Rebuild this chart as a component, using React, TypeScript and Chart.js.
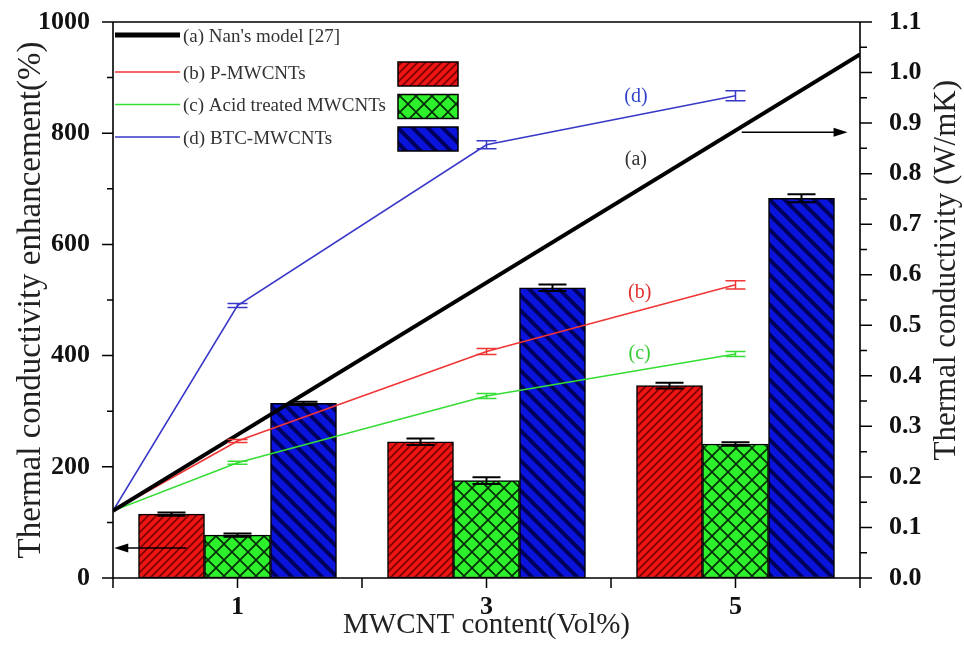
import React, { useEffect, useRef } from "react";
import { Chart, registerables } from "chart.js";

Chart.register(...registerables);

const WIDTH = 964;
const HEIGHT = 653;
const SERIF = '"Liberation Serif", "Times New Roman", serif';

// MWCNT loadings (vol%) of the nanofluid samples
const contentVol = [1, 3, 5];
// labelled positions on the x axis
const xLabeled = [1, 3, 5];

// thermal conductivity enhancement (%) — left axis, bars
const enhP = [115, 245, 346];
const enhPErr = [3, 6, 5];
const enhAcid = [77, 175, 241];
const enhAcidErr = [3, 6, 3];
const enhBtc = [314, 522, 683];
const enhBtcErr = [3, 6, 7];

// thermal conductivity (W/mK) — right axis, lines (0 vol% = base fluid)
const lineContent = [0, 1, 3, 5];
const kP = [0.133, 0.271, 0.448, 0.58];
const kPErr = [0, 0.003, 0.006, 0.008];
const kAcid = [0.133, 0.228, 0.36, 0.443];
const kAcidErr = [0, 0.003, 0.005, 0.005];
const kBtc = [0.133, 0.539, 0.857, 0.954];
const kBtcErr = [0, 0.004, 0.008, 0.01];

// Nan's model prediction
const nanContent = [0, 6];
const kNan = [0.133, 1.036];

// axis ranges and tick steps
const leftRange = [0, 1000];
const leftStep = 200;
const rightRange = [0, 1.1];
const rightStep = 0.1;

// curve tags, in data coordinates of the right axis
const curveTags = [
  { text: "(a)", x: 4.2, y: 0.827, color: "#333333" },
  { text: "(d)", x: 4.2, y: 0.953, color: "#3344cc" },
  { text: "(b)", x: 4.23, y: 0.564, color: "#e03030" },
  { text: "(c)", x: 4.23, y: 0.443, color: "#33cc33" },
];

// arrows pointing each family of curves at its axis
const axisArrows = [
  { axis: "y", y: 54, fromX: 0.59, toX: 0.01 },
  { axis: "y1", y: 0.882, fromX: 5.05, toX: 5.9 },
];

const RED = "#ee1515";
const GREEN = "#2bf02b";
const BLUE = "#0a14dc";
const LINE_RED = "#f03535";
const LINE_GREEN = "#35dd35";
const LINE_BLUE = "#3838c8";

function stripePattern(size: number, bg: string, fg: string, width: number, dir: "up" | "down" | "cross") {
  const c = document.createElement("canvas");
  c.width = size;
  c.height = size;
  const g = c.getContext("2d")!;
  g.fillStyle = bg;
  g.fillRect(0, 0, size, size);
  g.strokeStyle = fg;
  g.lineWidth = width;
  g.lineCap = "square";
  const drawUp = () => {
    for (let k = -1; k <= 1; k++) {
      g.beginPath();
      g.moveTo(k * size, size);
      g.lineTo(k * size + size, 0);
      g.stroke();
    }
  };
  const drawDown = () => {
    for (let k = -1; k <= 1; k++) {
      g.beginPath();
      g.moveTo(k * size, 0);
      g.lineTo(k * size + size, size);
      g.stroke();
    }
  };
  if (dir === "up" || dir === "cross") drawUp();
  if (dir === "down" || dir === "cross") drawDown();
  return g.createPattern(c, "repeat")!;
}

// vertical scales: fixed width, and no extra room reserved for half-labels
function fixVertical(width: number) {
  return (s: any) => {
    s.width = width;
    s.paddingTop = 0;
    s.paddingBottom = 0;
  };
}

export default function App() {
  const canvasRef = useRef<HTMLCanvasElement | null>(null);

  useEffect(() => {
    const canvas = canvasRef.current;
    if (!canvas) return;

    const redFill = stripePattern(8, RED, "#7a0000", 1.6, "up");
    const greenFill = stripePattern(16, GREEN, "#0a2a0a", 1.6, "cross");
    const blueFill = stripePattern(15, BLUE, "#00005a", 4, "down");

    const barSeries = [
      { label: "P-MWCNTs", values: enhP, err: enhPErr, fill: redFill },
      { label: "Acid treated MWCNTs", values: enhAcid, err: enhAcidErr, fill: greenFill },
      { label: "BTC-MWCNTs", values: enhBtc, err: enhBtcErr, fill: blueFill },
    ];
    const lineSeries = [
      { label: "(b) P-MWCNTs", values: kP, err: kPErr, color: LINE_RED },
      { label: "(c) Acid treated MWCNTs", values: kAcid, err: kAcidErr, color: LINE_GREEN },
      { label: "(d) BTC-MWCNTs", values: kBtc, err: kBtcErr, color: LINE_BLUE },
    ];

    const legendRows = [
      { text: "(a) Nan's model [27]", color: "#000", width: 5, swatch: null as CanvasPattern | null },
      { text: "(b) P-MWCNTs", color: LINE_RED, width: 1.5, swatch: redFill },
      { text: "(c) Acid treated MWCNTs", color: LINE_GREEN, width: 1.5, swatch: greenFill },
      { text: "(d) BTC-MWCNTs", color: LINE_BLUE, width: 1.5, swatch: blueFill },
    ];

    const decor = {
      id: "decor",
      afterDatasetsDraw(chart: any) {
        const ctx: CanvasRenderingContext2D = chart.ctx;
        const { x, y, y1 } = chart.scales;
        ctx.save();
        // error bars on the columns
        ctx.strokeStyle = "#000";
        ctx.lineWidth = 2;
        barSeries.forEach((s, si) => {
          const meta = chart.getDatasetMeta(4 + si);
          meta.data.forEach((bar: any, i: number) => {
            const cx = bar.x;
            const hi = y.getPixelForValue(s.values[i] + s.err[i]);
            const lo = y.getPixelForValue(s.values[i] - s.err[i]);
            ctx.beginPath();
            ctx.moveTo(cx, hi);
            ctx.lineTo(cx, lo);
            ctx.moveTo(cx - 14, hi);
            ctx.lineTo(cx + 14, hi);
            ctx.moveTo(cx - 14, lo);
            ctx.lineTo(cx + 14, lo);
            ctx.stroke();
          });
        });
        // error bars on the conductivity curves
        ctx.lineWidth = 1.5;
        lineSeries.forEach((s) => {
          ctx.strokeStyle = s.color;
          lineContent.forEach((c, i) => {
            if (!s.err[i]) return;
            const cx = x.getPixelForValue(c);
            const hi = y1.getPixelForValue(s.values[i] + s.err[i]);
            const lo = y1.getPixelForValue(s.values[i] - s.err[i]);
            ctx.beginPath();
            ctx.moveTo(cx, hi);
            ctx.lineTo(cx, lo);
            ctx.moveTo(cx - 10, hi);
            ctx.lineTo(cx + 10, hi);
            ctx.moveTo(cx - 10, lo);
            ctx.lineTo(cx + 10, lo);
            ctx.stroke();
          });
        });
        ctx.restore();
      },
      afterDraw(chart: any) {
        const ctx: CanvasRenderingContext2D = chart.ctx;
        const { x, y, y1 } = chart.scales;
        const ca = chart.chartArea;
        ctx.save();

        // frame and axis lines
        ctx.strokeStyle = "#000";
        ctx.lineWidth = 1.6;
        ctx.beginPath();
        ctx.moveTo(ca.left, ca.top);
        ctx.lineTo(ca.right, ca.top);
        ctx.moveTo(ca.left, ca.top);
        ctx.lineTo(ca.left, ca.bottom);
        ctx.lineTo(ca.right, ca.bottom);
        ctx.moveTo(ca.right, ca.top);
        ctx.lineTo(ca.right, ca.bottom);
        ctx.stroke();

        // tick marks, all pointing outwards
        ctx.lineWidth = 1.5;
        ctx.beginPath();
        for (let v = leftRange[0]; v <= leftRange[1] + 1e-9; v += leftStep / 2) {
          const py = y.getPixelForValue(v);
          const len = Math.round(v) % leftStep === 0 ? 11 : 6;
          ctx.moveTo(ca.left, py);
          ctx.lineTo(ca.left - len, py);
        }
        const nRight = Math.round((rightRange[1] - rightRange[0]) / (rightStep / 2));
        for (let i = 0; i <= nRight; i++) {
          const v = rightRange[0] + (i * rightStep) / 2;
          const py = y1.getPixelForValue(v);
          const len = i % 2 === 0 ? 12 : 7;
          ctx.moveTo(ca.right, py);
          ctx.lineTo(ca.right + len, py);
        }
        for (let v = x.min; v <= x.max; v += 1) {
          const px = x.getPixelForValue(v);
          ctx.moveTo(px, ca.bottom);
          ctx.lineTo(px, ca.bottom + 10);
        }
        ctx.stroke();

        // right axis title, reading bottom to top
        ctx.save();
        ctx.font = `31px ${SERIF}`;
        ctx.fillStyle = "#222";
        ctx.textBaseline = "middle";
        ctx.textAlign = "right";
        ctx.translate(947, ca.top + 58);
        ctx.rotate(-Math.PI / 2);
        ctx.fillText("Thermal conductivity (W/mK)", 0, 0);
        ctx.restore();

        // curve tags
        ctx.font = `20px ${SERIF}`;
        ctx.textAlign = "center";
        ctx.textBaseline = "middle";
        curveTags.forEach((t) => {
          ctx.fillStyle = t.color;
          ctx.fillText(t.text, x.getPixelForValue(t.x), y1.getPixelForValue(t.y));
        });

        // arrows
        ctx.strokeStyle = "#000";
        ctx.fillStyle = "#000";
        ctx.lineWidth = 1.5;
        axisArrows.forEach((a) => {
          const sc = a.axis === "y" ? y : y1;
          const py = sc.getPixelForValue(a.y);
          const x0 = x.getPixelForValue(a.fromX);
          const x1 = x.getPixelForValue(a.toX);
          const dirn = Math.sign(x1 - x0);
          ctx.beginPath();
          ctx.moveTo(x0, py);
          ctx.lineTo(x1 - dirn * 10, py);
          ctx.stroke();
          ctx.beginPath();
          ctx.moveTo(x1, py);
          ctx.lineTo(x1 - dirn * 14, py - 4.5);
          ctx.lineTo(x1 - dirn * 14, py + 4.5);
          ctx.closePath();
          ctx.fill();
        });

        // legend
        const lx0 = ca.left + 2;
        const lx1 = ca.left + 67;
        const ty = ca.top + 13;
        ctx.font = `19px ${SERIF}`;
        ctx.textAlign = "left";
        legendRows.forEach((r, i) => {
          const rowY = i === 0 ? ty : ty + 37 + (i - 1) * 32.5;
          ctx.strokeStyle = r.color;
          ctx.lineWidth = r.width;
          ctx.beginPath();
          ctx.moveTo(lx0, rowY);
          ctx.lineTo(lx1, rowY);
          ctx.stroke();
          ctx.fillStyle = "#333";
          ctx.fillText(r.text, lx1 + 3, rowY + 2);
          if (r.swatch) {
            ctx.fillStyle = r.swatch;
            ctx.fillRect(398, rowY - 10, 60, 24);
            ctx.strokeStyle = "#000";
            ctx.lineWidth = 1.5;
            ctx.strokeRect(398, rowY - 10, 60, 24);
          }
        });

        ctx.restore();
      },
    };

    const tickFont = { family: SERIF, size: 26, weight: "bold" as const };

    const chart = new Chart(canvas, {
      type: "bar",
      data: {
        datasets: [
          {
            type: "line",
            label: "(a) Nan's model [27]",
            data: nanContent.map((c, i) => ({ x: c, y: kNan[i] })),
            yAxisID: "y1",
            borderColor: "#000",
            borderWidth: 4,
            pointRadius: 0,
            fill: false,
            tension: 0,
            order: 0,
          },
          ...lineSeries.map((s) => ({
            type: "line" as const,
            label: s.label,
            data: lineContent.map((c, i) => ({ x: c, y: s.values[i] })),
            yAxisID: "y1",
            borderColor: s.color,
            borderWidth: 1.6,
            pointRadius: 0,
            fill: false,
            tension: 0,
            order: 0,
          })),
          ...barSeries.map((s) => ({
            type: "bar" as const,
            label: s.label,
            data: contentVol.map((c, i) => ({ x: c, y: s.values[i] })),
            yAxisID: "y",
            backgroundColor: s.fill,
            borderColor: "#000",
            borderWidth: 1.5,
            borderSkipped: false as const,
            barThickness: 66,
            order: 1,
          })),
        ] as any,
      },
      options: {
        responsive: false,
        animation: false,
        devicePixelRatio: 1,
        layout: { padding: { top: 22, left: 0, right: 0, bottom: 0 } },
        plugins: { legend: { display: false }, tooltip: { enabled: false } },
        scales: {
          x: {
            type: "linear",
            min: 0,
            max: 6,
            offset: false,
            grid: { display: false, offset: false },
            border: { display: false },
            ticks: {
              stepSize: 1,
              autoSkip: false,
              maxRotation: 0,
              padding: 6,
              font: tickFont,
              color: "#111",
              callback: (v: any) => (xLabeled.includes(Number(v)) ? String(v) : ""),
            },
            title: {
              display: true,
              text: "MWCNT content(Vol%)",
              font: { family: SERIF, size: 29 },
              color: "#222",
              padding: { top: 0, bottom: 10 },
            },
            afterFit: (s: any) => {
              s.height = 75;
              s.paddingLeft = 0;
              s.paddingRight = 0;
            },
          },
          y: {
            type: "linear",
            position: "left",
            min: leftRange[0],
            max: leftRange[1],
            grid: { display: false },
            border: { display: false },
            ticks: {
              stepSize: leftStep,
              padding: 15,
              font: tickFont,
              color: "#111",
              callback: (v: any) => String(v),
            },
            title: {
              display: true,
              text: "Thermal conductivity enhancement(%)",
              font: { family: SERIF, size: 33 },
              color: "#222",
              padding: { top: 12, bottom: 0 },
            },
            afterFit: fixVertical(113),
          },
          y1: {
            type: "linear",
            position: "right",
            min: rightRange[0],
            max: rightRange[1],
            grid: { display: false },
            border: { display: false },
            ticks: {
              stepSize: rightStep,
              padding: 21,
              font: tickFont,
              color: "#111",
              callback: (v: any) => Number(v).toFixed(1),
            },
            afterFit: fixVertical(104),
          },
        },
      } as any,
      plugins: [decor],
    });

    return () => chart.destroy();
  }, []);

  return (
    <div style={{ position: "absolute", left: 0, top: 0, width: WIDTH, height: HEIGHT, background: "#fff" }}>
      <canvas ref={canvasRef} width={WIDTH} height={HEIGHT} style={{ display: "block" }} />
    </div>
  );
}
